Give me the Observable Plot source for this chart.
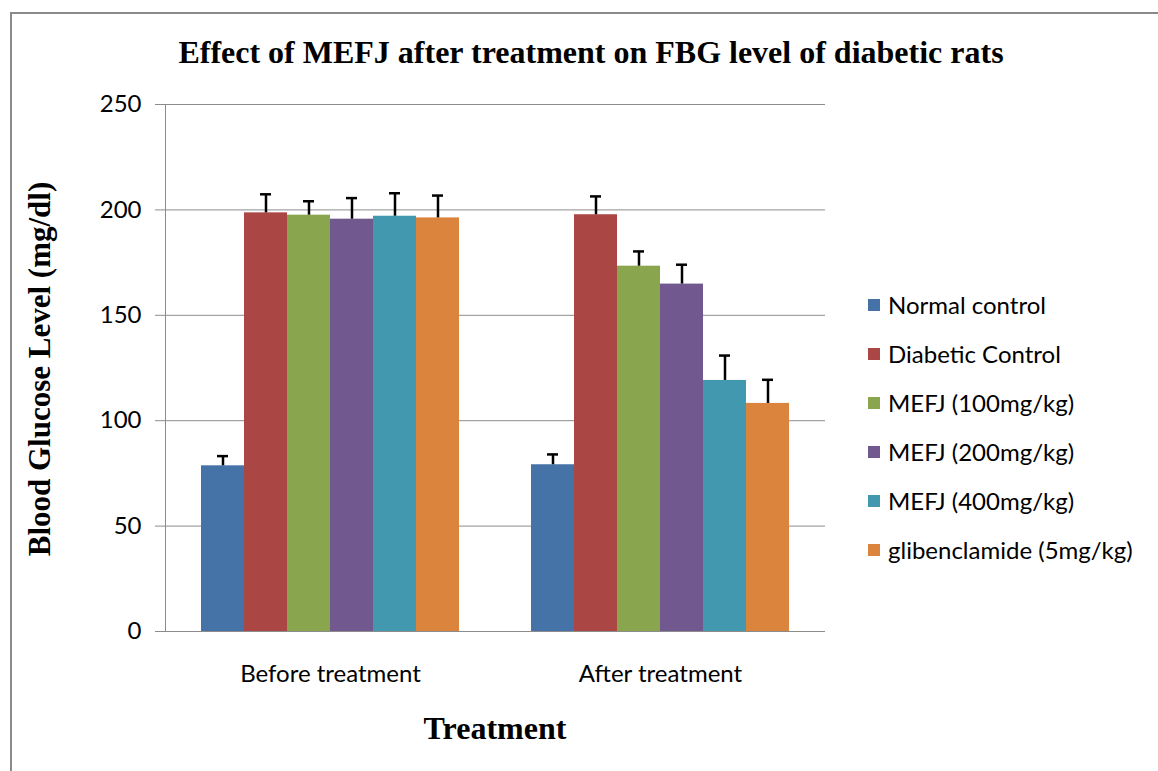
<!DOCTYPE html>
<html>
<head>
<meta charset="utf-8">
<script src="https://cdn.jsdelivr.net/npm/d3@7"></script>
<script src="https://cdn.jsdelivr.net/npm/@observablehq/plot@0.6"></script>
<style>
  html, body { margin: 0; padding: 0; background: #fff; }
  #wrap { position: relative; width: 1158px; height: 771px; overflow: hidden; background: #fff; }
  #border { position: absolute; left: 10px; top: 12px; right: -10px; bottom: -10px; border-left: 2px solid #8a8a8a; border-top: 2px solid #8a8a8a; }
  #title { position: absolute; left: 591px; top: 52px; transform: translate(-50%, -50%); font-family: "Liberation Serif", "Times New Roman", serif; font-weight: bold; font-size: 32px; color: #000; white-space: nowrap; }
  #ytitle { position: absolute; left: 40px; top: 369px; transform: translate(-50%, -50%) rotate(-90deg); font-family: "Liberation Serif", serif; font-weight: bold; font-size: 31px; white-space: nowrap; }
  #xtitle { position: absolute; left: 495px; top: 728px; transform: translate(-50%, -50%); font-family: "Liberation Serif", serif; font-weight: bold; font-size: 32px; white-space: nowrap; }
  #chart { position: absolute; left: 0; top: 0; }
  #legend { position: absolute; left: 868px; top: 280px; font-family: Lato, sans-serif; font-size: 24px; color: #000; }
  .row { height: 49px; display: flex; align-items: center; }
  .sw { width: 12px; height: 12px; margin-right: 8px; flex: none; }
</style>
</head>
<body>
<div id="wrap">
  <div id="border"></div>
  <div id="chart"></div>
  <div id="title">Effect of MEFJ after treatment on FBG level of diabetic rats</div>
  <div id="ytitle">Blood Glucose Level (mg/dl)</div>
  <div id="xtitle">Treatment</div>
  <div id="legend"></div>
</div>
<script>
const groups = ["Before treatment", "After treatment"];
const series = ["Normal control", "Diabetic Control", "MEFJ (100mg/kg)", "MEFJ (200mg/kg)", "MEFJ (400mg/kg)", "glibenclamide (5mg/kg)"];
const colors = ["#4572A7", "#AA4643", "#89A54E", "#71588F", "#4198AF", "#DB843D"];
const beforeValues = [78.6, 198.6, 197.5, 195.6, 197.0, 196.2];
const beforeErrors = [4.6, 8.8, 6.6, 10.0, 10.9, 10.6];
const afterValues = [79.1, 197.7, 173.3, 164.8, 119.1, 108.2];
const afterErrors = [4.9, 8.7, 7.0, 9.2, 11.8, 11.2];
const yTicks = [0, 50, 100, 150, 200, 250];

const data = [];
series.forEach((s, i) => {
  data.push({group: groups[0], series: s, value: beforeValues[i], hi: beforeValues[i] + beforeErrors[i]});
  data.push({group: groups[1], series: s, value: afterValues[i], hi: afterValues[i] + afterErrors[i]});
});

const gridColor = "#8c8c8c";
const plot = Plot.plot({
  width: 1158,
  height: 771,
  marginLeft: 165,
  marginRight: 333,
  marginTop: 104,
  marginBottom: 140,
  style: {fontFamily: "Lato, sans-serif", fontSize: "24px", color: "#000", background: "transparent", overflow: "visible"},
  fx: {domain: groups, padding: 0, label: null, axis: null},
  x: {domain: series, paddingInner: 0, paddingOuter: 0.78, axis: null},
  y: {domain: [0, 250], axis: null},
  color: {domain: series, range: colors},
  marks: [
    Plot.gridY(yTicks, {stroke: gridColor, strokeOpacity: 1}),
    Plot.barY(data, {fx: "group", x: "series", y: "value", fill: "series"}),
    Plot.ruleX(data, {fx: "group", x: "series", y1: "value", y2: "hi", stroke: "#000", strokeWidth: 2.5}),
    Plot.tickY(data, {fx: "group", x: "series", y: "hi", stroke: "#000", strokeWidth: 2.5, insetLeft: 16, insetRight: 16}),
    Plot.ruleY([0], {stroke: gridColor}),
    Plot.axisY(yTicks, {tickSize: 10, tickPadding: 14, stroke: gridColor, fill: "#000", label: null, fontSize: 24}),
    Plot.frame({anchor: "left", facetAnchor: "left", stroke: gridColor}),
    Plot.axisFx({anchor: "bottom", tickSize: 0, tickPadding: 33, label: null, fontSize: 24})
  ]
});
document.getElementById("chart").appendChild(plot);

const legend = document.getElementById("legend");
series.forEach((s, i) => {
  const row = document.createElement("div");
  row.className = "row";
  const sw = document.createElement("span");
  sw.className = "sw";
  sw.style.background = colors[i];
  const t = document.createElement("span");
  t.textContent = s;
  row.appendChild(sw);
  row.appendChild(t);
  legend.appendChild(row);
});
</script>
</body>
</html>
